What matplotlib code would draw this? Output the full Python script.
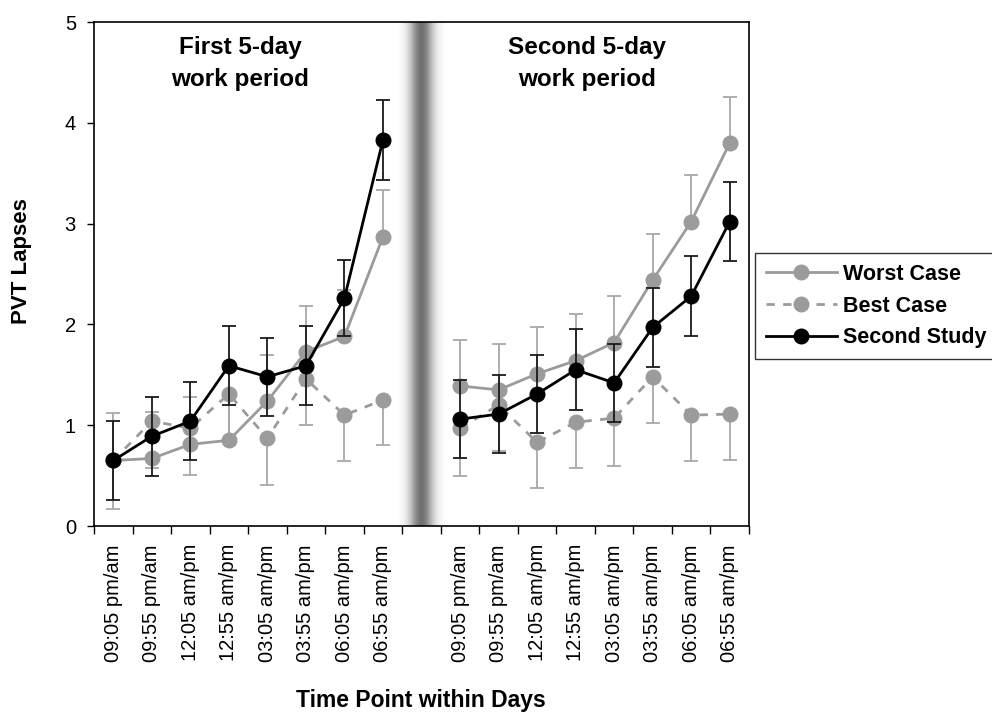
import numpy as np
import matplotlib.pyplot as plt

## data ----------------------------------------------------

time_labels = ["09:05 pm/am", "09:55 pm/am", "12:05 am/pm", "12:55 am/pm",
               "03:05 am/pm", "03:55 am/pm", "06:05 am/pm", "06:55 am/pm"]

# first 5-day work period
worst1  = [0.65, 0.67, 0.81, 0.85, 1.24, 1.73, 1.88, 2.87]
best1   = [0.65, 1.04, 0.97, 1.31, 0.87, 1.46, 1.10, 1.25]
second1 = [0.65, 0.89, 1.04, 1.59, 1.48, 1.59, 2.26, 3.83]

# second 5-day work period
worst2  = [1.39, 1.35, 1.51, 1.64, 1.82, 2.44, 3.02, 3.80]
best2   = [0.97, 1.20, 0.83, 1.03, 1.07, 1.48, 1.10, 1.11]
second2 = [1.06, 1.11, 1.31, 1.55, 1.42, 1.97, 2.28, 3.02]

# error bar sizes
worst_err1  = [0.47, 0.46, 0.47, 0.46, 0.46, 0.45, 0.46, 0.46]
worst_err2  = [0.46, 0.46, 0.46, 0.46, 0.46, 0.46, 0.46, 0.46]
best_err1   = [0.48, 0.46, 0.46, 0.46, 0.46, 0.46, 0.46, 0.45]
best_err2   = [0.47, 0.46, 0.45, 0.45, 0.47, 0.46, 0.46, 0.46]
second_err1 = [0.39, 0.39, 0.39, 0.39, 0.39, 0.39, 0.38, 0.40]
second_err2 = [0.39, 0.39, 0.39, 0.40, 0.39, 0.39, 0.40, 0.39]

period_titles = ["First 5-day\nwork period", "Second 5-day\nwork period"]


## join the two periods with an empty slot in between -------
def join(a, b):
    return np.array(list(a) + [np.nan] + list(b), dtype=float)

worst = join(worst1, worst2)
best = join(best1, best2)
second = join(second1, second2)
worst_err = join(worst_err1, worst_err2)
best_err = join(best_err1, best_err2)
second_err = join(second_err1, second_err2)
zero = np.zeros(len(worst))

labels = time_labels + [""] + time_labels
x = np.arange(len(labels))
gap = len(time_labels)

plt.rcParams['font.family'] = ['Liberation Sans', 'DejaVu Sans']

fig = plt.figure(figsize=(9.92, 7.21), dpi=100)
ax = fig.add_axes([94/992, 1 - 526/721, (749 - 94)/992, (526 - 22)/721])

light = "#9b9b9b"
errgray = "#a8a8a8"

# worst case: upper error bars only
e1 = ax.errorbar(x, worst, yerr=[zero, worst_err], color=light, lw=2,
                 marker="o", ms=10.5, mec=light, ecolor=errgray, elinewidth=1.3,
                 capsize=5, capthick=1.3, label="Worst Case", zorder=3)
# best case: lower error bars only
e2 = ax.errorbar(x, best, yerr=[best_err, zero], color=light, lw=2, ls=(0, (3, 3)),
                 marker="o", ms=10.5, mec=light, ecolor=errgray, elinewidth=1.3,
                 capsize=5, capthick=1.3, label="Best Case", zorder=3)
# second study
e3 = ax.errorbar(x, second, yerr=second_err, color="black", lw=2,
                 marker="o", ms=10.5, mec="black", ecolor="#1a1a1a", elinewidth=1.3,
                 capsize=5, capthick=1.3, label="Second Study", zorder=4)

# shaded separator between the two periods
xs = np.linspace(-0.6, 0.6, 200)
grad = 1 - 0.56*np.exp(-(xs/0.3)**2)
ax.imshow(grad[np.newaxis, :], extent=[gap - 0.6, gap + 0.6, 0, 5], aspect="auto",
          cmap="gray", vmin=0, vmax=1, zorder=0.5, interpolation="bilinear")

ax.set_xlim(-0.5, len(labels) - 0.5)
ax.set_ylim(0, 5)

# axes / ticks
ax.set_yticks(range(6))
ax.tick_params(axis="y", direction="out", length=5, width=1, labelsize=14.5, pad=8)
ax.set_xticks(x)
ax.set_xticklabels(labels, rotation=90, fontsize=14.5)
ax.set_xticks(np.arange(-0.5, len(labels)), minor=True)
ax.tick_params(axis="x", which="major", length=0, pad=13)
ax.tick_params(axis="x", which="minor", direction="out", length=6, width=1)
for s in ax.spines.values():
    s.set_linewidth(1.2)
    s.set_color("black")

# period titles
ax.text(3.3, 4.86, period_titles[0], ha="center", va="top", fontsize=17.5,
        fontweight="bold", linespacing=1.5)
ax.text(12.3, 4.86, period_titles[1], ha="center", va="top", fontsize=17.5,
        fontweight="bold", linespacing=1.5)

fig.text(22/992, 1 - 261/721, "PVT Lapses", rotation=90, ha="center", va="center",
         fontsize=16, fontweight="bold")
fig.text(421/992, 1 - 700/721, "Time Point within Days", ha="center", va="center",
         fontsize=16.5, fontweight="bold")

leg = fig.legend(handles=[e1[0], e2[0], e3[0]], labels=["Worst Case", "Best Case", "Second Study"],
                 loc="upper left", bbox_to_anchor=(755/992, 1 - 253/721),
                 prop={"weight": "bold", "size": 15.5}, frameon=True, fancybox=False,
                 edgecolor="black", handlelength=3.3, handletextpad=0.3,
                 labelspacing=0.5, borderpad=0.5, borderaxespad=0, numpoints=1)
leg.get_frame().set_linewidth(1)

fig.savefig("out.png", dpi=100)
